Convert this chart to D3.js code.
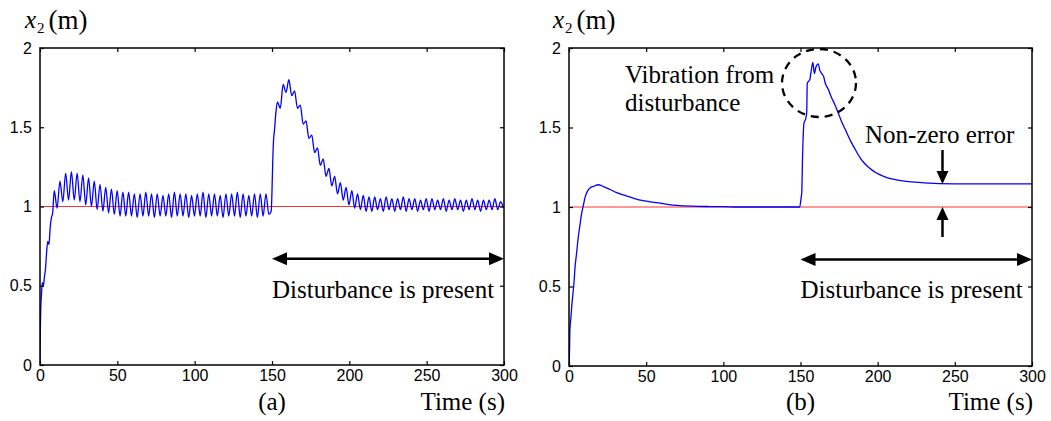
<!DOCTYPE html>
<html>
<head>
<meta charset="utf-8">
<script src="https://cdn.jsdelivr.net/npm/d3@7"></script>
<style>
  body { margin: 0; background: #fff; }
  .tick text { font-family: "Liberation Sans", Arial, sans-serif; font-size: 16px; fill: #000; }
</style>
</head>
<body>
<script>
// axis ticks
const xTicks = [0, 50, 100, 150, 200, 250, 300];
const yTicks = [0, 0.5, 1, 1.5, 2];
const reference = 1;

// (a) start-up
const leftRiseT = [0, 0.2, 0.5, 1.0, 1.5, 2.2, 2.9, 3.5, 4.2, 5.0, 5.8, 6.6, 7.4, 8.2];
const leftRiseV = [0, 0.2, 0.35, 0.45, 0.52, 0.5, 0.56, 0.6, 0.7, 0.78, 0.76, 0.87, 0.93, 0.96];
// (a) peaks / troughs of the vibration, one every half period
const halfPeriod = 1.85;
const leftPreStart = 9.2;
const leftPreV = [
  1.10, 0.99, 1.16, 1.03, 1.21, 1.04, 1.22, 1.04, 1.21, 1.03,
  1.20, 1.01, 1.18, 1.00, 1.16, 0.98, 1.14, 0.97, 1.12, 0.96,
  1.11, 0.95, 1.10, 0.94, 1.09, 0.94, 1.09, 0.94, 1.08, 0.93,
  1.08, 0.94, 1.09, 0.94, 1.08, 0.93, 1.08, 0.94, 1.07, 0.94,
  1.08, 0.93, 1.09, 0.94, 1.08, 0.94, 1.08, 0.93, 1.07, 0.94,
  1.08, 0.94, 1.09, 0.93, 1.08, 0.94, 1.08, 0.94, 1.07, 0.93,
  1.08, 0.94, 1.08, 0.94, 1.09, 0.93, 1.08, 0.94, 1.07, 0.94,
  1.08, 0.93, 1.08, 0.94, 1.08, 0.95
];
// (a) disturbance switched on at 150 s
const leftJumpT = [149.5, 150.0, 150.5, 151.0, 151.6, 152.4];
const leftJumpV = [0.97, 1.10, 1.29, 1.42, 1.48, 1.58];
const leftPostStart = 153.5;
const leftPostV = [
  1.66, 1.62, 1.77, 1.72, 1.80, 1.70, 1.73, 1.62, 1.64, 1.52,
  1.54, 1.43, 1.45, 1.34, 1.37, 1.26, 1.30, 1.19, 1.24, 1.13,
  1.19, 1.08, 1.15, 1.04, 1.12, 1.01, 1.10, 0.99, 1.08, 0.98,
  1.07, 0.97, 1.06, 0.97, 1.06, 0.98, 1.05, 0.97, 1.06, 0.98,
  1.05, 0.97, 1.05, 0.98, 1.06, 0.97, 1.05, 0.98, 1.05, 0.97,
  1.04, 0.98, 1.05, 0.97, 1.05, 0.98, 1.04, 0.98, 1.05, 0.97,
  1.04, 0.98, 1.05, 0.98, 1.04, 0.97, 1.04, 0.98, 1.05, 0.98,
  1.04, 0.97, 1.04, 0.98, 1.04, 0.98, 1.05, 0.98, 1.03, 0.99
];

// (b) response
const rightT = [0, 0.3, 0.6, 1.2, 1.8, 2.4, 3.2, 3.9, 4.8, 6, 7, 8.2, 9.3, 10.4, 12, 13.6, 16, 19, 22,
  26.6, 31, 37, 42, 48, 54, 59, 65, 70, 80, 90, 100, 110, 120, 130, 140, 149.5, 150.3, 150.8, 151.4,
  152.3, 153.2, 154, 154.4, 155.2, 156, 157, 158, 159, 160, 161.5, 162.5, 163.7, 165, 166, 168, 170,
  172, 174.5, 176.5, 178.9, 181, 183, 185, 187, 189, 191, 193, 196, 199, 202, 206, 210, 215, 220,
  226, 233, 240, 250, 260, 270, 280, 290, 300];
const rightV = [0, 0.08, 0.23, 0.30, 0.38, 0.44, 0.52, 0.62, 0.70, 0.81, 0.88, 0.96, 1.01, 1.06, 1.10, 1.12, 1.13, 1.14, 1.13,
  1.11, 1.09, 1.07, 1.055, 1.04, 1.03, 1.025, 1.015, 1.01, 1.005, 1.003, 1.002, 1.0, 1.0, 1.0, 1.0, 1.0, 1.05, 1.09, 1.34,
  1.53, 1.55, 1.59, 1.78, 1.79, 1.80, 1.86, 1.91, 1.84, 1.88, 1.90, 1.86, 1.84, 1.82, 1.78, 1.74, 1.69,
  1.65, 1.59, 1.54, 1.49, 1.445, 1.405, 1.37, 1.335, 1.305, 1.28, 1.26, 1.235, 1.215, 1.2, 1.185, 1.175, 1.166, 1.16,
  1.155, 1.15, 1.147, 1.146, 1.146, 1.145, 1.145, 1.145, 1.145];

const W = 1051, H = 421;
const serif = "'Liberation Serif', 'Times New Roman', serif";
const svg = d3.select("body").append("svg").attr("width", W).attr("height", H);

const seg = (start, vals) => vals.map((v, i) => ({ t: start + i * halfPeriod, v }));
const leftData = []
  .concat(leftRiseT.map((t, i) => ({ t, v: leftRiseV[i] })))
  .concat(seg(leftPreStart, leftPreV))
  .concat(leftJumpT.map((t, i) => ({ t, v: leftJumpV[i] })))
  .concat(seg(leftPostStart, leftPostV));
const rightData = rightT.map((t, i) => ({ t, v: rightV[i] }));

function label(g, x, y, txt) {
  return g.append("text").attr("x", x).attr("y", y)
    .style("font-family", serif).style("font-size", "25px").attr("fill", "#000").text(txt);
}

function panel(left, right, top, bottom, data, tag, labelX) {
  const x = d3.scaleLinear().domain([0, 300]).range([left, right]);
  const y = d3.scaleLinear().domain([0, 2]).range([bottom, top]);
  const g = svg.append("g");

  const clipId = "clip" + tag;
  g.append("clipPath").attr("id", clipId).append("rect")
    .attr("x", left).attr("y", top).attr("width", right - left).attr("height", bottom - top);

  // reference line
  g.append("line")
    .attr("x1", x(0)).attr("x2", x(300)).attr("y1", y(reference)).attr("y2", y(reference))
    .attr("stroke", "#ff3030").attr("stroke-width", 1);

  g.append("path").datum(data)
    .attr("clip-path", `url(#${clipId})`)
    .attr("fill", "none").attr("stroke", "#0000ff").attr("stroke-width", 1.3)
    .attr("d", d3.line().x(d => x(d.t)).y(d => y(d.v)).curve(d3.curveMonotoneX));

  // axes, ticks pointing inwards like matlab
  const bx = g.append("g").attr("transform", `translate(0,${bottom})`)
    .call(d3.axisBottom(x).tickValues(xTicks).tickSize(-4).tickSizeOuter(0).tickPadding(5));
  const tx = g.append("g").attr("transform", `translate(0,${top})`)
    .call(d3.axisTop(x).tickValues(xTicks).tickSize(-4).tickSizeOuter(0).tickFormat(""));
  const ly = g.append("g").attr("transform", `translate(${left},0)`)
    .call(d3.axisLeft(y).tickValues(yTicks).tickSize(-4).tickSizeOuter(0).tickPadding(8).tickFormat(d3.format("")));
  const ry = g.append("g").attr("transform", `translate(${right},0)`)
    .call(d3.axisRight(y).tickValues(yTicks).tickSize(-4).tickSizeOuter(0).tickFormat(""));
  [bx, tx, ly, ry].forEach(a => {
    a.select(".domain").remove();
    a.selectAll(".tick line").attr("stroke", "#000").attr("stroke-width", 1.2);
  });
  g.append("rect").attr("x", left).attr("y", top).attr("width", right - left).attr("height", bottom - top)
    .attr("fill", "none").attr("stroke", "#000").attr("stroke-width", 1.5);

  // y label  x2 (m)
  const yl = label(g, labelX, 28, null);
  yl.append("tspan").style("font-style", "italic").text("x");
  yl.append("tspan").attr("dy", 5).attr("dx", 1).style("font-size", "15px").text("2");
  yl.append("tspan").attr("dy", -4).attr("dx", 4).style("font-size", "27px").text("(m)");

  label(g, x(150), 410, `(${tag})`).attr("text-anchor", "middle");
  label(g, right + 1, 410, "Time (s)").attr("text-anchor", "end");

  // disturbance span arrow
  const ay = y(0.67);
  g.append("line").attr("x1", x(150) + 10).attr("x2", x(300) - 10).attr("y1", ay).attr("y2", ay)
    .attr("stroke", "#000").attr("stroke-width", 2.5);
  g.append("path").attr("d", `M${x(150)},${ay}l15,-6.5v13z`).attr("fill", "#000");
  g.append("path").attr("d", `M${x(300)},${ay}l-15,-6.5v13z`).attr("fill", "#000");
  label(g, x(150), 298, "Disturbance is present");

  return { x, y, g };
}

const pa = panel(40, 504, 48, 365, leftData, "a", 25);
const pb = panel(569, 1032, 48, 366, rightData, "b", 553);

// annotations on (b)
const gb = pb.g, xb = pb.x, yb = pb.y;
gb.append("ellipse").attr("cx", xb(162)).attr("cy", yb(1.78)).attr("rx", 37).attr("ry", 34)
  .attr("fill", "none").attr("stroke", "#000").attr("stroke-width", 2.3).attr("stroke-dasharray", "8,6");
label(gb, 625, 83, "Vibration from");
label(gb, 625, 111, "disturbance");

const ex = xb(242);
label(gb, 865, 143, "Non-zero error");
gb.append("line").attr("x1", ex).attr("x2", ex).attr("y1", 150).attr("y2", yb(1.145) - 10)
  .attr("stroke", "#000").attr("stroke-width", 2.5);
gb.append("path").attr("d", `M${ex},${yb(1.145)}l-6,-13h12z`).attr("fill", "#000");
gb.append("line").attr("x1", ex).attr("x2", ex).attr("y1", 237).attr("y2", yb(1) + 10)
  .attr("stroke", "#000").attr("stroke-width", 2.5);
gb.append("path").attr("d", `M${ex},${yb(1)}l-6,13h12z`).attr("fill", "#000");
</script>
</body>
</html>
